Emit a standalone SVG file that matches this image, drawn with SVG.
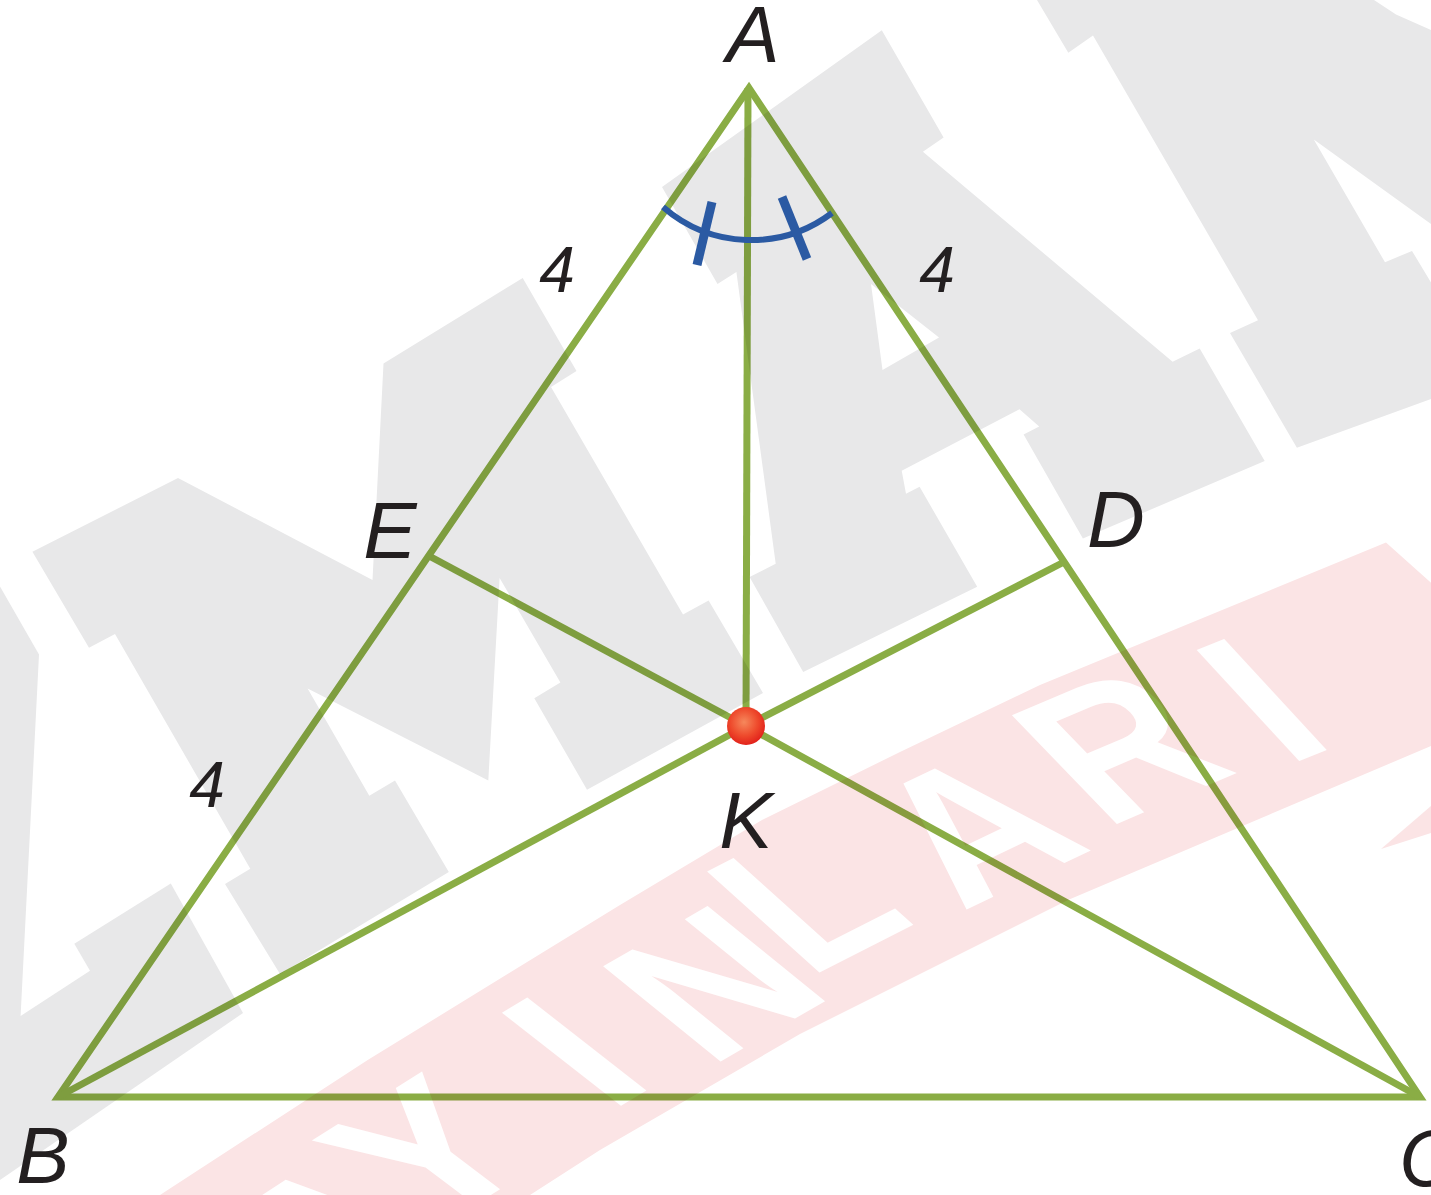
<svg xmlns="http://www.w3.org/2000/svg" width="1431" height="1195" viewBox="0 0 1431 1195">
<defs>
<radialGradient id="dotg" cx="45%" cy="40%" r="60%">
<stop offset="0" stop-color="#f6885c"/>
<stop offset="0.6" stop-color="#ee4a2c"/>
<stop offset="1" stop-color="#e2221b"/>
</radialGradient>
<style>
.wm{fill:#e8e8e9;stroke:none}
.pk{fill:#fbe4e5;stroke:none}
.wl{fill:#ffffff;font-family:"Liberation Sans",Arial,sans-serif;font-weight:700;font-size:205px;text-anchor:middle}
.ln{stroke:#8aad45;stroke-width:7;fill:none;stroke-linejoin:miter;stroke-miterlimit:10}
.lbl{fill:#231f20;font-family:"Liberation Sans",Arial,sans-serif;font-style:italic;font-size:80px;text-anchor:middle}
.num{fill:#231f20;font-family:"Liberation Sans",Arial,sans-serif;font-style:italic;font-size:64px;text-anchor:middle}
.bl{stroke:#2b5aa3;fill:none}
</style>
</defs>
<rect width="1431" height="1195" fill="#ffffff"/>
<g id="watermark">
<polygon class="wm" points="32.4,551.8 178,478 372.5,580 383.5,363.6 522.7,278 576.5,371 551,387 683,614.5 708.6,600.4 763,693 587,789.7 534.3,698.2 560.4,682.5 499.6,578 488.3,780.4 307.6,688.6 369.3,795.7 395,780.4 448.8,872 280,974 225,884 250.3,868.7 115,634 89,647.8"/>
<polygon class="wm" points="0,586.5 39,654.4 20.6,1016 90,970.7 74.3,943.7 170.8,883.5 243,1013 0,1180"/>
<path class="wm" fill-rule="evenodd" d="M662,187 L881.8,30.3 L943.6,137.6 L922.9,151.7 L1172.6,361.7 L1199.7,348.5 L1264.7,461 L1082.9,538.5 L1023.6,434.6 L1039.2,426.5 L1019.5,409.3 L901.7,470.7 L906,493.7 L919.6,486.8 L977.2,586.7 L803.2,672 L749.6,577 L775.7,563.8 L736.4,272 L717.5,284 Z M871,284 L939,337.5 L882.5,370 Z"/>
<polygon class="wm" points="1037,0 1374,0 1396,14.4 1431,30 1431,223.9 1313.8,139.5 1385,262.3 1412,250.9 1431,282.4 1431,399 1296.9,447.8 1230,333 1258,320.3 1093,35.6 1068.3,52.8"/>
<polygon class="pk" points="160,1195 367.7,1060 620,905 762,820 900,752 1040,685 1386,542.5 1431,582.7 1431,746 1068,900 800,1034 600,1150 530,1195"/>
<polygon class="pk" points="1381,849 1431,806 1431,833"/>
<text class="wl" transform="translate(330,1232) rotate(-33) skewX(21)" x="0" y="73">A</text>
<text class="wl" transform="translate(425,1150) rotate(-32) skewX(21)" x="0" y="73">Y</text>
<text class="wl" transform="translate(572,1050) rotate(-31) skewX(21)" x="0" y="73">I</text>
<text class="wl" transform="translate(712,982) rotate(-30) skewX(21)" x="0" y="73">N</text>
<text class="wl" transform="translate(805,898) rotate(-27) skewX(21)" x="0" y="73">L</text>
<text class="wl" transform="translate(972,826) rotate(-25.5) skewX(21)" x="0" y="73">A</text>
<text class="wl" transform="translate(1118,744) rotate(-23) skewX(21)" x="0" y="73">R</text>
<text class="wl" transform="translate(1260,698) rotate(-21.7) skewX(21)" x="0" y="73">I</text>
</g>
<g id="connectors" style="mix-blend-mode:multiply">
<polygon id="triangle-ABC" class="ln" points="749,88 58,1097 1420,1097"/>
<path id="AK" class="ln" d="M748,88 L746,726"/>
<path id="EK" class="ln" d="M431,557 L746,726"/>
<path id="DK" class="ln" d="M1064,562 L746,726"/>
<path id="BK" class="ln" d="M58,1097 L746,726"/>
<path id="CK" class="ln" d="M1420,1097 L746,726"/>
</g>
<g id="angle-mark">
<path class="bl" stroke-width="6" d="M663,207 A134,134 0 0 0 832,213"/>
<path class="bl" stroke-width="9" d="M697,265 L712,202"/>
<path class="bl" stroke-width="9" d="M782,197 L807,259"/>
</g>
<g id="node-K">
<circle cx="746" cy="726" r="19" fill="url(#dotg)"/>
<text class="lbl" x="746" y="848">K</text>
</g>
<g id="node-A"><text class="lbl" x="753" y="62">A</text></g>
<g id="node-B"><text class="lbl" x="43" y="1183">B</text></g>
<g id="node-C"><text class="lbl" x="1428" y="1186">C</text></g>
<g id="node-D"><text class="lbl" x="1116" y="547">D</text></g>
<g id="node-E"><text class="lbl" x="390" y="558">E</text></g>
<g id="labels">
<text class="num" x="557" y="292">4</text>
<text class="num" x="937" y="292">4</text>
<text class="num" x="207" y="807">4</text>
</g>
</svg>
